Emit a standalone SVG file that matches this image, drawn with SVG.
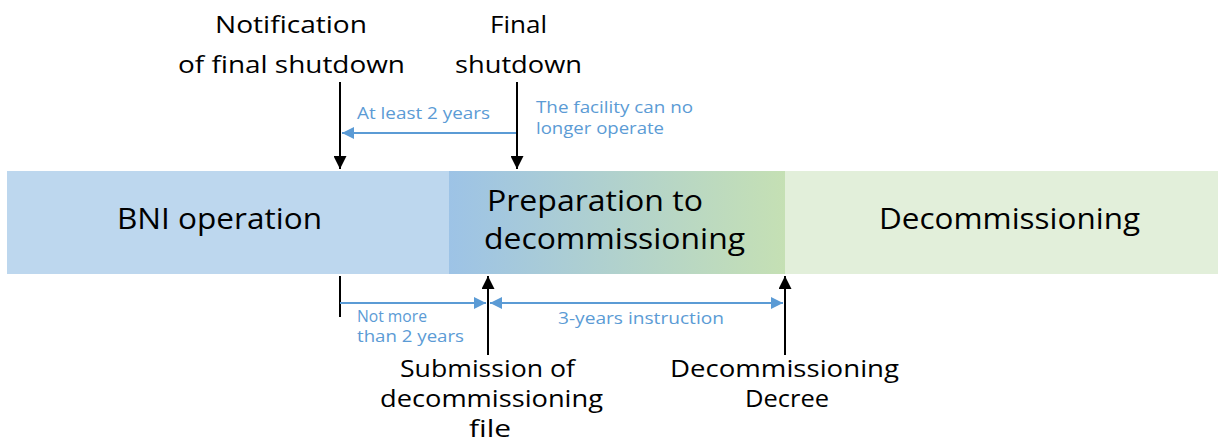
<svg xmlns="http://www.w3.org/2000/svg" width="1218" height="441" viewBox="0 0 1218 441">
  <defs>
    <linearGradient id="prepGrad" x1="0" y1="0" x2="1" y2="0">
      <stop offset="0" stop-color="#9DC3E6"/>
      <stop offset="1" stop-color="#C5E0B4"/>
    </linearGradient>
    <marker id="headBlack" viewBox="0 0 10 10" refX="10" refY="5" markerWidth="13" markerHeight="13" markerUnits="userSpaceOnUse" orient="auto">
      <path d="M0,0 L10,5 L0,10 z" fill="#000"/>
    </marker>
    <marker id="headBlue" viewBox="0 0 10 10" refX="10" refY="5" markerWidth="13" markerHeight="12" markerUnits="userSpaceOnUse" orient="auto-start-reverse">
      <path d="M0,0 L10,5 L0,10 z" fill="#5B9BD5"/>
    </marker>
  </defs>
  <style>
    .big { font-family: "Open Sans", "Liberation Sans", sans-serif; font-size: 24px; fill: #000; }
    .phase { font-family: "Open Sans", "Liberation Sans", sans-serif; font-size: 30px; fill: #000; }
    .note { font-family: "Open Sans", "Liberation Sans", sans-serif; font-size: 16px; fill: #5B9BD5; }
    .blk { stroke: #000; stroke-width: 2; fill: none; }
    .blu { stroke: #5B9BD5; stroke-width: 2; fill: none; }
  </style>

  <!-- phases -->
  <g id="bni-operation">
    <rect x="7" y="171" width="442" height="103" fill="#BDD7EE"/>
    <text class="phase" x="117" y="229" textLength="205" lengthAdjust="spacingAndGlyphs">BNI operation</text>
  </g>
  <g id="preparation">
    <rect x="449" y="171" width="336" height="103" fill="url(#prepGrad)"/>
    <text class="phase" x="487" y="211" textLength="216" lengthAdjust="spacingAndGlyphs">Preparation to</text>
    <text class="phase" x="484" y="249" textLength="261" lengthAdjust="spacingAndGlyphs">decommissioning</text>
  </g>
  <g id="decommissioning">
    <rect x="785" y="171" width="433" height="103" fill="#E2EFDA"/>
    <text class="phase" x="879" y="229" textLength="261" lengthAdjust="spacingAndGlyphs">Decommissioning</text>
  </g>

  <!-- milestones -->
  <g id="notification">
    <text class="big" x="215" y="33" textLength="152" lengthAdjust="spacingAndGlyphs">Notification</text>
    <text class="big" x="178" y="73" textLength="227" lengthAdjust="spacingAndGlyphs">of final shutdown</text>
  </g>
  <g id="final-shutdown">
    <text class="big" x="490" y="33" textLength="57" lengthAdjust="spacingAndGlyphs">Final</text>
    <text class="big" x="455" y="73" textLength="127" lengthAdjust="spacingAndGlyphs">shutdown</text>
  </g>
  <g id="submission">
    <text class="big" x="400" y="377" textLength="175" lengthAdjust="spacingAndGlyphs">Submission of</text>
    <text class="big" x="380" y="407" textLength="223" lengthAdjust="spacingAndGlyphs">decommissioning</text>
    <text class="big" x="469" y="437" textLength="42" lengthAdjust="spacingAndGlyphs">file</text>
  </g>
  <g id="decree">
    <text class="big" x="670" y="377" textLength="229" lengthAdjust="spacingAndGlyphs">Decommissioning</text>
    <text class="big" x="745" y="407" textLength="84" lengthAdjust="spacingAndGlyphs">Decree</text>
  </g>

  <!-- connectors -->
  <g id="connectors">
    <line class="blk" x1="340" y1="82" x2="340" y2="169" marker-end="url(#headBlack)"/>
    <line class="blk" x1="517" y1="82" x2="517" y2="169" marker-end="url(#headBlack)"/>
    <line class="blu" x1="516" y1="133" x2="342" y2="133" marker-end="url(#headBlue)"/>
    <line class="blk" x1="340" y1="276" x2="340" y2="317"/>
    <line class="blu" x1="340" y1="303" x2="486" y2="303" marker-end="url(#headBlue)"/>
    <line class="blk" x1="488" y1="355" x2="488" y2="276" marker-end="url(#headBlack)"/>
    <line class="blu" x1="490" y1="303" x2="783" y2="303" marker-start="url(#headBlue)" marker-end="url(#headBlue)"/>
    <line class="blk" x1="785" y1="355" x2="785" y2="276" marker-end="url(#headBlack)"/>
  </g>

  <!-- interval labels -->
  <g id="labels">
    <text class="note" x="357" y="119" textLength="133" lengthAdjust="spacingAndGlyphs">At least 2 years</text>
    <text class="note" x="536" y="113" textLength="157" lengthAdjust="spacingAndGlyphs">The facility can no</text>
    <text class="note" x="536" y="134" textLength="128" lengthAdjust="spacingAndGlyphs">longer operate</text>
    <text class="note" x="357" y="322" textLength="70" lengthAdjust="spacingAndGlyphs">Not more</text>
    <text class="note" x="357" y="342" textLength="107" lengthAdjust="spacingAndGlyphs">than 2 years</text>
    <text class="note" x="558" y="324" textLength="166" lengthAdjust="spacingAndGlyphs">3-years instruction</text>
  </g>
</svg>
